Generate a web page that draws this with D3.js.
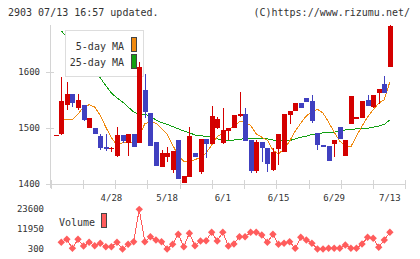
<!DOCTYPE html>
<html>
<head>
<meta charset="utf-8">
<script src="https://cdn.jsdelivr.net/npm/d3@7"></script>
<style>
body { margin: 0; background: #fff; }
text { font-family: "DejaVu Sans Mono", monospace; }
</style>
</head>
<body>
<div id="chart"></div>
<script>
// daily prices, 61 sessions ending 7/13
var opens  = [1487,1488,1540,1560,1535,1540,1499,1500,1485,1466,1462,1450,1487,1472,1489,1472,1567,1526,1474,1429,1448,1424,1478,1402,1412,1455,1421,1480,1471,1500,1473,1494,1499,1521,1525,1478,1423,1474,1464,1425,1462,1457,1523,1530,1544,1553,1548,1490,1470,1467,1471,1501,1450,1506,1516,1518,1550,1537,1562,1578,1609];
var highs  = [1487,1591,1582,1560,1561,1540,1517,1500,1489,1489,1465,1502,1487,1489,1489,1618,1596,1526,1474,1460,1465,1458,1478,1414,1502,1455,1480,1480,1539,1520,1535,1500,1523,1564,1536,1478,1478,1474,1464,1463,1489,1525,1530,1544,1544,1553,1558,1490,1470,1467,1478,1501,1478,1557,1519,1548,1558,1558,1569,1592,1684];
var lows   = [1487,1487,1532,1537,1532,1512,1499,1489,1460,1459,1457,1448,1472,1450,1465,1472,1517,1468,1432,1429,1439,1420,1408,1402,1412,1448,1418,1446,1471,1498,1471,1478,1499,1520,1477,1420,1420,1438,1421,1423,1434,1457,1507,1530,1535,1546,1508,1460,1466,1441,1447,1479,1450,1506,1516,1518,1538,1535,1542,1562,1609];
var closes = [1487,1548,1560,1545,1550,1513,1517,1489,1463,1462,1464,1487,1476,1489,1466,1609,1528,1468,1432,1455,1455,1458,1408,1414,1485,1448,1480,1471,1521,1515,1496,1500,1523,1524,1477,1423,1474,1464,1435,1456,1489,1525,1530,1544,1535,1546,1512,1470,1466,1441,1478,1479,1478,1557,1519,1548,1538,1558,1569,1562,1682];
var ma5  = [null,1515,1515,1515,1524,1537,1541,1537,1522,1501,1482,1469,1473,1473,1474,1485,1507,1511,1508,1499,1489,1469,1450,1440,1440,1443,1447,1455,1469,1484,1490,1497,1502,1511,1510,1504,1489,1483,1478,1460,1453,1462,1476,1494,1508,1521,1528,1533,1526,1510,1492,1476,1467,1466,1485,1503,1519,1532,1544,1550,1582];
var ma25 = [null,1673,1662,1650,1637,1625,1614,1601,1589,1575,1562,1553,1546,1537,1528,1524,1524,1520,1514,1509,1506,1502,1498,1494,1491,1487,1486,1484,1483,1480,1478,1478,1478,1479,1481,1481,1481,1481,1480,1478,1477,1476,1477,1480,1483,1485,1488,1489,1491,1492,1492,1494,1496,1497,1498,1498,1499,1501,1503,1506,1514];
var volume = [null,4200,5950,700,5950,2050,4200,2220,3620,1640,1640,4200,300,3040,4550,23400,4550,7460,5540,4550,300,3040,8860,1640,9450,2220,4960,5130,10030,4960,10030,2050,3210,7460,7460,10030,10030,8455,4200,8860,3040,3620,4550,700,7110,5540,3620,300,300,700,700,700,2630,700,700,3210,7110,6530,1290,5540,10030];
var dateTickIndex = [10,20,30,40,50,60];
var dateTickLabels = ["4/28","5/18","6/1","6/15","6/29","7/13"];
var priceTicks = [1400,1500,1600];
var volumeTicks = [300,11950,23600];
var legendItems = ["5-day MA","25-day MA"];

var W = 420, H = 259;
var upColor = "#d40000", downColor = "#4040c0";
var ma5Color = "#f08a10", ma25Color = "#12a012", volColor = "#ff5c5c";
var axisColor = "#d4d4d4", textColor = "#333";

var svg = d3.select("#chart").append("svg")
  .attr("width", W).attr("height", H);

var x = d3.scaleLinear().domain([-0.9, 62.77]).range([50.7, 405.3]);
var y = d3.scaleLinear().domain([1400, 1600]).range([183.7, 71.7]);
var yVol = d3.scaleLinear().domain([300, 23600]).range([249, 209]);
var grid = d3.scaleLinear().domain([0, 11]).range([50.7, 405.3]);

// header
svg.append("text").attr("x", 8).attr("y", 16).attr("font-size", 10)
  .attr("fill", textColor).text("2903 07/13 16:57 updated.");
svg.append("text").attr("x", 410).attr("y", 16).attr("font-size", 10)
  .attr("text-anchor", "end").attr("fill", textColor).text("(C)https://www.rizumu.net/");

// axes
var ax = svg.append("g").attr("stroke", axisColor).attr("shape-rendering", "crispEdges");
ax.append("line").attr("x1", 50.5).attr("x2", 50.5).attr("y1", 25).attr("y2", 188);
ax.append("line").attr("x1", 50.5).attr("x2", grid(11)).attr("y1", 184.5).attr("y2", 184.5);
ax.selectAll(".gt").data(d3.range(12)).enter().append("line")
  .attr("x1", function(d){ return Math.round(grid(d)) + 0.5; })
  .attr("x2", function(d){ return Math.round(grid(d)) + 0.5; })
  .attr("y1", 180).attr("y2", 189);
ax.selectAll(".yt").data(priceTicks).enter().append("line")
  .attr("x1", 46).attr("x2", 54)
  .attr("y1", function(d){ return Math.round(y(d)) + 0.5; })
  .attr("y2", function(d){ return Math.round(y(d)) + 0.5; });

svg.selectAll(".yl").data(priceTicks).enter().append("text")
  .attr("x", 40).attr("y", function(d){ return y(d) + 3; })
  .attr("text-anchor", "end").attr("font-size", 9).attr("fill", textColor)
  .text(function(d){ return d; });

svg.selectAll(".xl").data(dateTickIndex).enter().append("text")
  .attr("x", function(d){ return x(d); }).attr("y", 201)
  .attr("text-anchor", "middle").attr("font-size", 9).attr("fill", textColor)
  .text(function(d, i){ return dateTickLabels[i]; });

// moving averages
var idx = d3.range(closes.length);
function maLine(arr) {
  return d3.line()
    .defined(function(i){ return arr[i] != null; })
    .x(function(i){ return x(i); })
    .y(function(i){ return y(arr[i]); })(idx);
}
svg.append("path").attr("d", maLine(ma25)).attr("fill", "none")
  .attr("stroke", ma25Color).attr("stroke-width", 1).attr("shape-rendering", "crispEdges");
svg.append("path").attr("d", maLine(ma5)).attr("fill", "none")
  .attr("stroke", ma5Color).attr("stroke-width", 1).attr("shape-rendering", "crispEdges");

// legend
var lg = svg.append("g");
lg.append("rect").attr("x", 65.5).attr("y", 30.5).attr("width", 78).attr("height", 46)
  .attr("fill", "#fff").attr("stroke", "#ddd");
lg.selectAll("text").data(legendItems).enter().append("text")
  .attr("x", 124).attr("y", function(d, i){ return 49.5 + i * 16; })
  .attr("text-anchor", "end").attr("font-size", 10).attr("fill", textColor)
  .text(function(d){ return d; });
lg.selectAll(".sw").data([ma5Color, ma25Color]).enter().append("rect")
  .attr("x", 131.5).attr("y", function(d, i){ return 37.5 + i * 17; })
  .attr("width", 5).attr("height", 14)
  .attr("fill", function(d){ return d; }).attr("stroke", "#444");

// candles
var cg = svg.append("g").attr("shape-rendering", "crispEdges");
var candles = cg.selectAll("g").data(idx).enter().append("g");
candles.append("line")
  .attr("x1", function(i){ return Math.round(x(i)) + 0.5; })
  .attr("x2", function(i){ return Math.round(x(i)) + 0.5; })
  .attr("y1", function(i){ return y(highs[i]); })
  .attr("y2", function(i){ return y(lows[i]); })
  .attr("stroke", function(i){ return closes[i] >= opens[i] ? upColor : downColor; });
candles.append("rect")
  .attr("x", function(i){ return Math.round(x(i)) - 2; })
  .attr("width", 5)
  .attr("y", function(i){ return y(Math.max(opens[i], closes[i])); })
  .attr("height", function(i){ return Math.max(1, Math.abs(y(opens[i]) - y(closes[i]))); })
  .attr("fill", function(i){ return closes[i] >= opens[i] ? upColor : downColor; });

// volume
svg.selectAll(".vl").data(volumeTicks).enter().append("text")
  .attr("x", 44).attr("y", function(d){ return yVol(d) + 3; })
  .attr("text-anchor", "end").attr("font-size", 9).attr("fill", textColor)
  .text(function(d){ return d; });
svg.append("text").attr("x", 59).attr("y", 226).attr("font-size", 10)
  .attr("fill", textColor).text("Volume");
svg.append("rect").attr("x", 101.5).attr("y", 213.5).attr("width", 5).attr("height", 14)
  .attr("fill", volColor).attr("stroke", "#444");

var volLine = d3.line()
  .defined(function(i){ return volume[i] != null; })
  .x(function(i){ return x(i); })
  .y(function(i){ return yVol(volume[i]); });
svg.append("path").attr("d", volLine(idx)).attr("fill", "none")
  .attr("stroke", volColor).attr("stroke-width", 1).attr("shape-rendering", "crispEdges");
svg.selectAll(".vm").data(idx.filter(function(i){ return volume[i] != null; }))
  .enter().append("path")
  .attr("transform", function(i){ return "translate(" + x(i) + "," + yVol(volume[i]) + ")"; })
  .attr("d", "M0,-3.7L3.7,0L0,3.7L-3.7,0Z")
  .attr("fill", volColor);
</script>
</body>
</html>
